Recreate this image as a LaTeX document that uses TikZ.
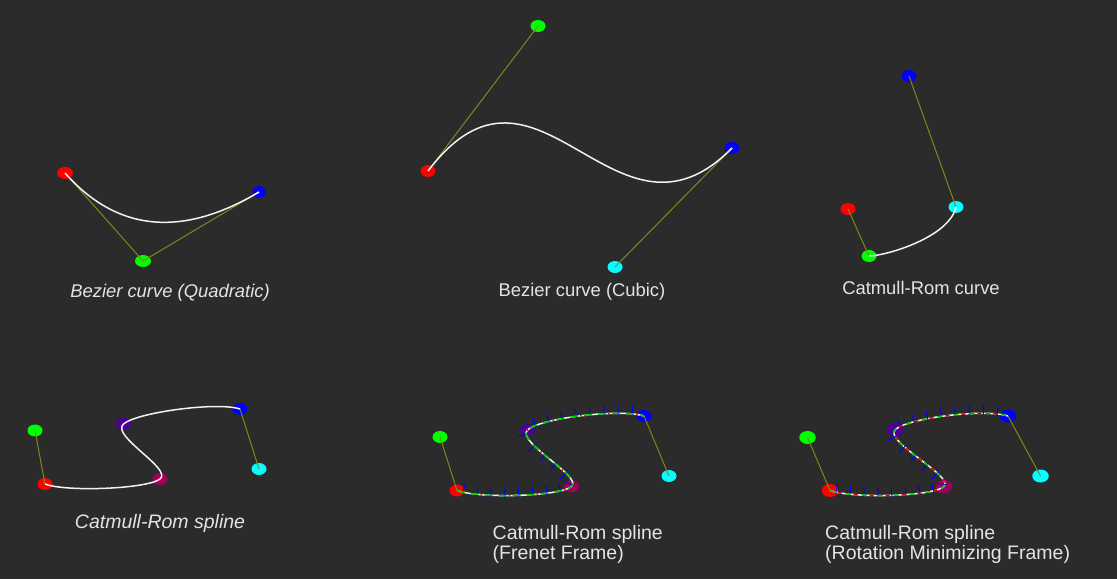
\documentclass[tikz,border=0pt]{standalone}
\usepackage{fontspec}
\setmainfont{Liberation Sans}
\usetikzlibrary{shapes.geometric,calc,decorations.markings}

\definecolor{bgcol}{HTML}{2B2B2B}
\definecolor{guidecol}{HTML}{85851E}
\definecolor{ptviolet}{HTML}{4B0096}
\definecolor{ptmagenta}{HTML}{A0005A}
\definecolor{ptcyan}{HTML}{00FFFF}
\definecolor{ptgreen}{HTML}{00FF00}
\definecolor{ptblue}{HTML}{0000FF}
\definecolor{ptred}{HTML}{FF0000}
\definecolor{curvecol}{HTML}{F2F2F2}
\definecolor{captioncol}{HTML}{E4E4E4}

\tikzset{
  dot/.style={ellipse, inner sep=0pt, minimum width=15pt, minimum height=12pt, fill=#1},
  bigdot/.style={dot=#1, minimum width=16.5pt, minimum height=13pt},
  guide line/.style={guidecol, line width=1pt},
  curve line/.style={curvecol, line width=1.5pt},
  caption/.style={captioncol, inner sep=0pt, font=\fontsize{18.4}{20}\selectfont},
  caption it/.style={caption, font=\fontsize{18.4}{20}\selectfont\itshape},
  caption low/.style={caption, font=\fontsize{19.5}{20}\selectfont},
  frame ticks/.style={postaction={decorate}, decoration={markings,
      mark=between positions 0.02 and 0.99 step 14pt with {\draw[ptblue, line width=1pt] (0,-1.5pt) -- (0,8pt);}}}
}

% control points of a spline: prefix, then green, red, magenta, violet, blue, cyan
\newcommand\splinepts[8][dot]{%
  \node[#1=ptgreen] (#2g) at (#3) {};
  \node[#1=ptred] (#2r) at (#4) {};
  \node[#1=ptmagenta] (#2m) at (#5) {};
  \node[#1=ptviolet] (#2v) at (#6) {};
  \node[#1=ptblue] (#2b) at (#7) {};
  \node[#1=ptcyan] (#2c) at (#8) {};
  \draw[guide line] (#2g.center) -- (#2r.center);
  \draw[guide line] (#2b.center) -- (#2c.center);
}
% catmull-rom through red, magenta, violet, blue
\newcommand\crcurve[2]{%
  \draw[#1] (#2r.center)
    .. controls ($(#2r.center)+0.1667*(#2m.center)-0.1667*(#2g.center)$)
            and ($(#2m.center)-0.1667*(#2v.center)+0.1667*(#2r.center)$) .. (#2m.center)
    .. controls ($(#2m.center)+0.1667*(#2v.center)-0.1667*(#2r.center)$)
            and ($(#2v.center)-0.1667*(#2b.center)+0.1667*(#2m.center)$) .. (#2v.center)
    .. controls ($(#2v.center)+0.1667*(#2b.center)-0.1667*(#2m.center)$)
            and ($(#2b.center)-0.1667*(#2c.center)+0.1667*(#2v.center)$) .. (#2b.center);
}

\begin{document}
\begin{tikzpicture}[x=1pt, y=-1pt]
\fill[bgcol] (0,0) rectangle (1117,579);
\useasboundingbox (0,0) rectangle (1117,579);

% quadratic bezier
\node[dot=ptred, minimum width=16pt] (qa) at (65,173) {};
\node[dot=ptgreen, minimum width=16pt] (qb) at (143,261) {};
\node[dot=ptblue, minimum width=13pt] (qc) at (259,192) {};
\draw[guide line] (qa.center) -- (qb.center) -- (qc.center);
\draw[curve line] (qa.center) .. controls ($(qa.center)!2/3!(qb.center)$) and ($(qc.center)!2/3!(qb.center)$) .. (qc.center);
\node[caption it, anchor=base] (capquad) at (170,297) {Bezier curve (Quadratic)};

% cubic bezier
\node[dot=ptred] (ca) at (428,171) {};
\node[dot=ptgreen] (cb) at (538,26) {};
\node[dot=ptcyan] (cc) at (615,267) {};
\node[dot=ptblue] (cd) at (732,148) {};
\draw[guide line] (ca.center) -- (cb.center);
\draw[guide line] (cc.center) -- (cd.center);
\draw[curve line] (ca.center) .. controls (cb.center) and (cc.center) .. (cd.center);
\node[caption, anchor=base] (capcubic) at (582,296) {Bezier curve (Cubic)};

% catmull-rom curve
\node[dot=ptred] (ka) at (848,209) {};
\node[dot=ptgreen] (kb) at (869,256) {};
\node[dot=ptcyan] (kc) at (956,207) {};
\node[dot=ptblue] (kd) at (909,76) {};
\draw[guide line] (ka.center) -- (kb.center);
\draw[guide line] (kc.center) -- (kd.center);
\draw[curve line] (kb.center)
  .. controls ($(kb.center)+0.1667*(kc.center)-0.1667*(ka.center)$)
          and ($(kc.center)-0.1667*(kd.center)+0.1667*(kb.center)$) .. (kc.center);
\node[caption, anchor=base] (capcr) at (921,294) {Catmull-Rom curve};

% catmull-rom spline
\splinepts{s}{35,430.5}{45,484}{160,479}{123.5,424}{240,409}{259,469}
\crcurve{curve line}{s}
\node[caption low, font=\fontsize{19.5}{20}\selectfont\itshape, anchor=base] (capspline) at (160,528) {Catmull-Rom spline};

% frenet frame
\splinepts{f}{440,437}{457,490.5}{571.5,486.5}{527.5,430}{644,416}{669,476}
\crcurve{curve line, frame ticks}{f}
\crcurve{ptgreen!80!black, line width=1.5pt, dash pattern=on 8pt off 6pt}{f}
\crcurve{ptred, line width=1.5pt, dash pattern=on 1.5pt off 26.5pt, dash phase=4pt}{f}
\node[caption low, anchor=north west, align=left] (capfrenet) at (492.5,525) {Catmull-Rom spline\\(Frenet Frame)};

% rotation minimizing frame
\splinepts[bigdot]{m}{807.5,437.5}{830,490.5}{944,486.5}{895,430}{1008,416}{1040.5,476}
\crcurve{curve line, frame ticks}{m}
\crcurve{ptgreen!80!black, line width=1.5pt, dash pattern=on 5pt off 11pt}{m}
\crcurve{ptred!85!black, line width=1.5pt, dash pattern=on 4pt off 12pt, dash phase=8pt}{m}
\node[caption low, anchor=north west, align=left] (caprmf) at (825,525) {Catmull-Rom spline\\(Rotation Minimizing Frame)};
\end{tikzpicture}
\end{document}
